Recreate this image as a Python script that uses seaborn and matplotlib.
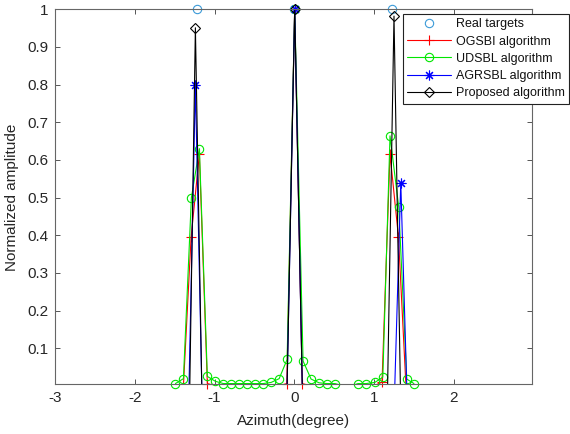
import numpy as np
import matplotlib
matplotlib.use("Agg")
import matplotlib.pyplot as plt
import seaborn as sns
from matplotlib.lines import Line2D

sns.set_theme(style="white")
plt.rcParams['font.family'] = ['Liberation Sans', 'DejaVu Sans']
plt.rcParams['axes.unicode_minus'] = False

# values
real_x = [-1.22, 0.0, 1.22]
real_y = [1.0, 1.0, 1.0]

ogsbi_x = [-1.49, -1.39, -1.294, -1.19, -1.09, -0.99, -0.19, -0.094, 0.005, 0.10, 0.2, 1.0, 1.10, 1.20, 1.306, 1.40, 1.5]
ogsbi_y = [0, 0, 0.394, 0.615, 0.006, 0, 0, 0.006, 1.0, 0.006, 0, 0, 0.01, 0.616, 0.395, 0, 0]

udsbl_x = [-1.49, -1.39, -1.29, -1.19, -1.09, -0.99, -0.89, -0.79, -0.69, -0.59, -0.49, -0.39, -0.29, -0.19, -0.09,
           0.005, 0.11, 0.21, 0.31, 0.41, 0.51, 0.61, 0.71, 0.80, 0.90, 1.01, 1.11, 1.20, 1.31, 1.41, 1.50]
udsbl_y = [0.006, 0.019, 0.50, 0.63, 0.025, 0.012, 0.006, 0.006, 0.006, 0.006, 0.006, 0.006, 0.009, 0.019, 0.07,
           1.0, 0.066, 0.018, 0.008, 0.006, 0.006, 0, 0, 0.006, 0.006, 0.009, 0.023, 0.664, 0.474, 0.018, 0.006]

agrsbl_x = [-1.5, -1.32, -1.24, -1.16, -0.09, 0.005, 0.10, 1.26, 1.335, 1.41, 1.5]
agrsbl_y = [0, 0, 0.80, 0, 0, 1.0, 0, 0, 0.54, 0, 0]

proposed_x = [-1.5, -1.31, -1.24, -1.16, -0.09, 0.005, 0.10, 1.17, 1.25, 1.33, 1.5]
proposed_y = [0, 0, 0.951, 0, 0, 1.0, 0, 0, 0.982, 0, 0]

x_ticks = [-3, -2, -1, 0, 1, 2]
y_ticks = [0.1, 0.2, 0.3, 0.4, 0.5, 0.6, 0.7, 0.8, 0.9, 1.0]
y_ticklabels = ['0.1', '0.2', '0.3', '0.4', '0.5', '0.6', '0.7', '0.8', '0.9', '1']

series = [
    ("OGSBI algorithm", ogsbi_x, ogsbi_y, "#ff0000", "+", 7),
    ("UDSBL algorithm", udsbl_x, udsbl_y, "#00e600", "o", 6),
    ("AGRSBL algorithm", agrsbl_x, agrsbl_y, "#0000ff", (8, 2, 0), 7),
    ("Proposed algorithm", proposed_x, proposed_y, "#000000", "D", 5),
]

fig = plt.figure(figsize=(5.7, 4.34), dpi=100)
ax = fig.add_axes([0.0965, 0.1145, 0.8368, 0.864])

sns.lineplot(x=real_x, y=real_y, ax=ax, linestyle="", marker="o", markersize=6,
             markerfacecolor="none", markeredgecolor="#3c9bd8", markeredgewidth=0.8, clip_on=False)

handles = [Line2D([], [], linestyle="", marker="o", markersize=6, markerfacecolor="none",
                  markeredgecolor="#3c9bd8", markeredgewidth=0.8)]
labels = ["Real targets"]

for name, xs, ys, col, mk, ms in series:
    sns.lineplot(x=xs, y=ys, ax=ax, sort=False, estimator=None, color=col, linewidth=0.8)
    # markers only where the point sits inside the axes (zeros fall below the limit)
    vx = [a for a, b in zip(xs, ys) if b > 0]
    vy = [b for b in ys if b > 0]
    sns.lineplot(x=vx, y=vy, ax=ax, sort=False, estimator=None, linestyle="", marker=mk,
                 markersize=ms, markerfacecolor="none", markeredgecolor=col,
                 markeredgewidth=0.8, clip_on=False)
    handles.append(Line2D([], [], color=col, linewidth=0.8, marker=mk, markersize=ms,
                          markerfacecolor="none", markeredgecolor=col, markeredgewidth=0.8))
    labels.append(name)

ax.set_xlim(-3, 2.98)
ax.set_ylim(0.004, 1.0)
ax.set_xticks(x_ticks)
ax.set_xticklabels([str(t) for t in x_ticks])
ax.set_yticks(y_ticks)
ax.set_yticklabels(y_ticklabels)
ax.tick_params(direction="in", length=3.5, width=0.7, color="#555555", labelsize=11,
               labelcolor="#262626", top=True, right=True, bottom=True, left=True, pad=5)
for sp in ax.spines.values():
    sp.set_color("#666666")
    sp.set_linewidth(0.8)
    sp.set_visible(True)

ax.set_xlabel("Azimuth(degree)", fontsize=11, color="#262626", labelpad=6)
ax.set_ylabel("Normalized amplitude", fontsize=11, color="#262626", labelpad=6)

leg = ax.legend(handles, labels, loc="upper left", bbox_to_anchor=(0.707, 0.968),
                bbox_transform=fig.transFigure, fontsize=9, frameon=True, fancybox=False,
                framealpha=1, edgecolor="#222222", handlelength=3.5, handletextpad=0.4,
                labelspacing=0.42, borderpad=0.35, borderaxespad=0)
leg.get_frame().set_linewidth(0.8)
for t in leg.get_texts():
    t.set_color("#111111")

fig.savefig("out.png", dpi=100)
